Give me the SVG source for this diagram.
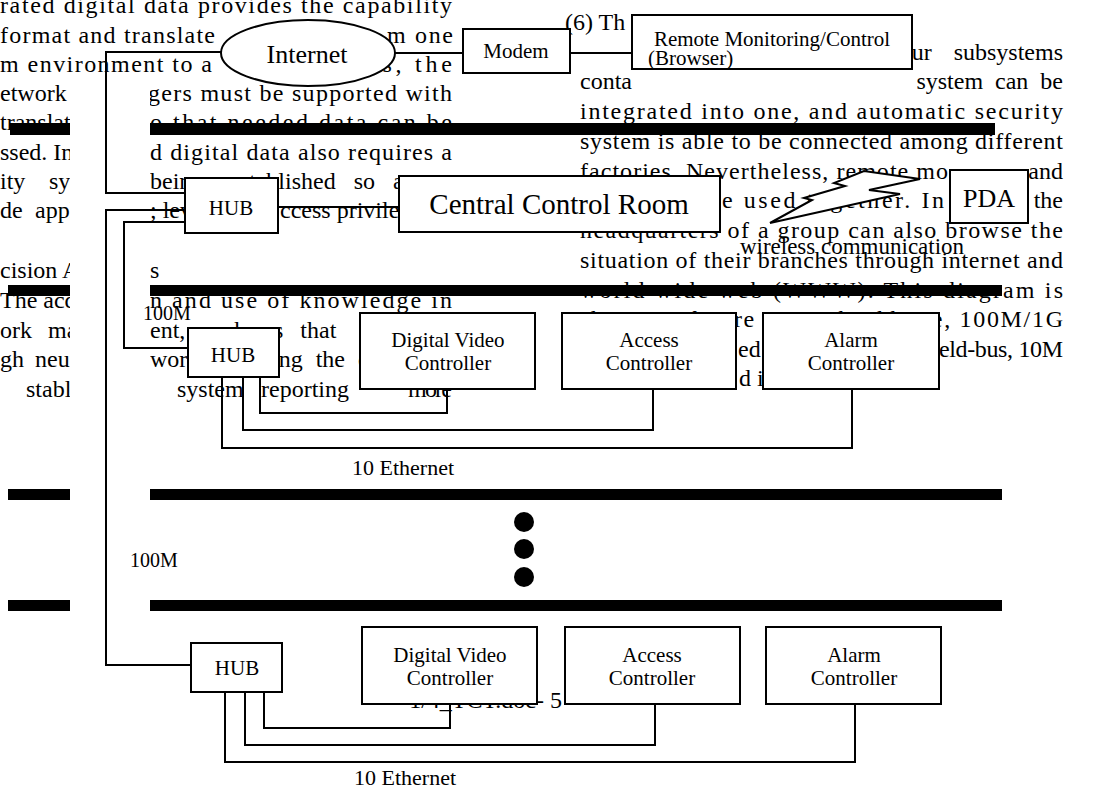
<svg xmlns="http://www.w3.org/2000/svg" width="1099" height="789" viewBox="0 0 1099 789">
<style>
.t{font-family:"Liberation Serif","Times New Roman",serif;font-size:24px;fill:#000}
.l{font-family:"Liberation Serif","Times New Roman",serif;font-size:21px;fill:#000;text-anchor:middle}
.box{fill:#fff;stroke:#000;stroke-width:2}
.w{fill:none;stroke:#000;stroke-width:2}
.bar{fill:#000}
.mask{fill:#fff}
</style>
<rect x="0" y="0" width="1099" height="789" fill="#fff"/>
<g id="page-text" class="t">
<text x="0" y="13" textLength="452" lengthAdjust="spacing">rated digital data provides the capability</text>
<text x="0" y="42.5" textLength="215" lengthAdjust="spacing">format and translate</text>
<text x="387" y="42.5" textLength="66" lengthAdjust="spacing">m one</text>
<text x="0" y="72" textLength="212" lengthAdjust="spacing">m environment to a</text>
<text x="368" y="72" textLength="84" lengthAdjust="spacing">as, the</text>
<text x="0" y="101">etwork m</text>
<text x="148" y="101" textLength="304" lengthAdjust="spacing">gers must be supported with</text>
<text x="0" y="130">translate</text>
<text x="150" y="130" textLength="302" lengthAdjust="spacing">o that needed data can be</text>
<text x="0" y="159.5">ssed. Int</text>
<text x="150" y="159.5" textLength="302" lengthAdjust="spacing">d digital data also requires a</text>
<text x="0" y="189">ity</text>
<text x="49" y="189">sys</text>
<text x="150" y="189">being</text>
<text x="229" y="189" word-spacing="12">established so as</text>
<text x="0" y="218">de</text>
<text x="35" y="218">appl</text>
<text x="150" y="218">; level</text>
<text x="280" y="218">ccess privileges</text>
<text x="0" y="278">cision A</text>
<text x="150" y="278">s</text>
<text x="0" y="308">The acq</text>
<text x="150" y="308" textLength="302" lengthAdjust="spacing">n and use of knowledge in</text>
<text x="0" y="338">ork</text>
<text x="48" y="338">man</text>
<text x="150" y="338" word-spacing="11">ent, such as that</text>
<text x="0" y="367">gh</text>
<text x="35" y="367">neur</text>
<text x="150" y="367">work</text>
<text x="272" y="367" word-spacing="7">ing the co</text>
<text x="26" y="396.5">stable</text>
<text x="177" y="396.5">system</text>
<text x="261" y="396.5">reporting</text>
<text x="408" y="396.5" textLength="44" lengthAdjust="spacing">more</text>
<text x="565" y="30">(6) Th</text>
<text x="1063" y="59.7" text-anchor="end" word-spacing="16">our subsystems</text>
<text x="580" y="89.4">conta</text>
<text x="1063" y="89.4" text-anchor="end" word-spacing="6">system can be</text>
<text x="580" y="119" textLength="483" lengthAdjust="spacing">integrated into one, and automatic security</text>
<text x="580" y="148.8" textLength="483" lengthAdjust="spacing">system is able to be connected among different</text>
<text x="580" y="178.5" textLength="368" lengthAdjust="spacing">factories. Nevertheless, remote mo</text>
<text x="1063" y="178.5" text-anchor="end">and</text>
<text x="722" y="208" textLength="222" lengthAdjust="spacing">e used together. In</text>
<text x="1063" y="208" text-anchor="end">the</text>
<text x="580" y="238" textLength="483" lengthAdjust="spacing">headquarters of a group can also browse the</text>
<text x="580" y="267.5" textLength="483" lengthAdjust="spacing">situation of their branches through internet and</text>
<text x="580" y="298" textLength="483" lengthAdjust="spacing">world wide web (WWW). This diagram is</text>
<text x="580" y="327" textLength="483" lengthAdjust="spacing">shown in figure 4. For backbone, 100M/1G</text>
<text x="738" y="356.5">ed</text>
<text x="925" y="356.5" textLength="138" lengthAdjust="spacing">field-bus, 10M</text>
<text x="739" y="386">d in</text>
<text x="562" y="708" text-anchor="end">1/4_TCT.doc- 5</text>
</g>
<rect class="mask" x="70" y="84" width="80" height="540"/>
<g id="bars" class="bar">
<rect x="10" y="123" width="60" height="12"/>
<rect x="150" y="123" width="845" height="12"/>
<rect x="8" y="285" width="62" height="11"/>
<rect x="150" y="285" width="852" height="11"/>
<rect x="8" y="489" width="62" height="11"/>
<rect x="150" y="489" width="852" height="11"/>
<rect x="8" y="600" width="62" height="11"/>
<rect x="150" y="600" width="852" height="11"/>
</g>
<g id="connectors" class="w">
<polyline points="221,52 106,52 106,193 185,193"/>
<line x1="395" y1="53" x2="463" y2="53"/>
<line x1="570" y1="53" x2="632" y2="53"/>
<line x1="278" y1="207" x2="399" y2="207"/>
<polyline points="185,210 106,210 106,665 191,665"/>
<polyline points="185,222 124,222 124,348 188,348"/>
<polyline points="260,377 260,413 447,413 447,389"/>
<polyline points="243,377 243,430 653,430 653,389"/>
<polyline points="222,377 222,448 852,448 852,389"/>
<polyline points="264,692 264,728 450,728 450,704"/>
<polyline points="245,692 245,745 655,745 655,704"/>
<polyline points="225,692 225,762 855,762 855,704"/>
</g>
<g id="internet"><ellipse class="box" cx="308" cy="53" rx="87" ry="33"/><text class="l" x="307" y="63" style="font-size:26px">Internet</text></g>
<g id="modem"><rect class="box" x="463" y="29" width="107" height="44"/><text class="l" x="516" y="58">Modem</text></g>
<g id="remote"><rect class="box" x="632" y="15" width="280" height="54"/><text class="l" x="772" y="46">Remote Monitoring/Control</text><text class="l" x="648" y="65" style="text-anchor:start">(Browser)</text></g>
<g id="ccr"><rect class="box" x="399" y="176" width="321" height="56"/><text class="l" x="559" y="214" style="font-size:29px">Central Control Room</text></g>
<g id="pda"><rect class="box" x="950" y="170" width="78" height="53"/><text class="l" x="989" y="207" style="font-size:26px">PDA</text></g>
<g id="wireless"><polygon points="770,223 812,200 804,198 845,186 834,183 864,171 920,179 869,190 900,194" fill="#fff" stroke="#000" stroke-width="2" stroke-linejoin="miter"/><text class="l" x="852" y="254" style="font-size:23px">wireless communication</text></g>
<g id="hub1"><rect class="box" x="185" y="178" width="93" height="55"/><text class="l" x="231" y="215">HUB</text></g>
<g id="hub2"><rect class="box" x="188" y="328" width="91" height="49"/><text class="l" x="233" y="362">HUB</text></g>
<g id="dv1"><rect class="box" x="360" y="313" width="175" height="76"/><text class="l" x="448" y="347">Digital Video</text><text class="l" x="448" y="370">Controller</text></g>
<g id="ac1"><rect class="box" x="562" y="313" width="174" height="76"/><text class="l" x="649" y="347">Access</text><text class="l" x="649" y="370">Controller</text></g>
<g id="al1"><rect class="box" x="763" y="313" width="176" height="76"/><text class="l" x="851" y="347">Alarm</text><text class="l" x="851" y="370">Controller</text></g>
<g id="hub3"><rect class="box" x="191" y="643" width="91" height="49"/><text class="l" x="237" y="675">HUB</text></g>
<g id="dv2"><rect class="box" x="362" y="627" width="175" height="77"/><text class="l" x="450" y="662">Digital Video</text><text class="l" x="450" y="685">Controller</text></g>
<g id="ac2"><rect class="box" x="565" y="627" width="175" height="77"/><text class="l" x="652" y="662">Access</text><text class="l" x="652" y="685">Controller</text></g>
<g id="al2"><rect class="box" x="766" y="627" width="175" height="77"/><text class="l" x="854" y="662">Alarm</text><text class="l" x="854" y="685">Controller</text></g>
<g id="labels">
<text class="l" x="167" y="320" style="font-size:20px">100M</text>
<text class="l" x="154" y="567" style="font-size:20px">100M</text>
<text class="l" x="403" y="475" style="font-size:22px">10 Ethernet</text>
<text class="l" x="405" y="785" style="font-size:22px">10 Ethernet</text>
<circle cx="524" cy="522" r="10"/>
<circle cx="524" cy="549" r="10"/>
<circle cx="524" cy="577" r="10"/>
</g>
</svg>
